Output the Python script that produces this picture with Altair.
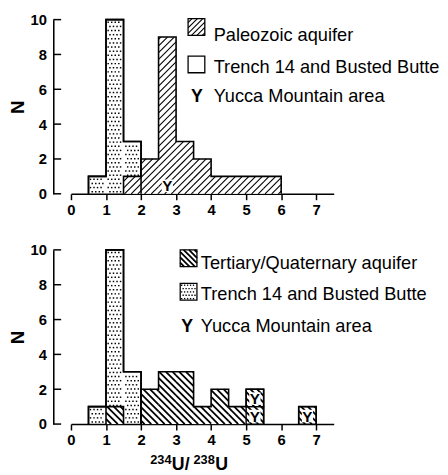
import math
import altair as alt
import pandas as pd

# ---------------- data ----------------
BIN = 0.5
XMAX = 7.5
YMAX = 10
W, H = 267, 177
PXX = W / XMAX
PXY = H / YMAX
FONT = "Liberation Sans"

x_ticks = [0, 1, 2, 3, 4, 5, 6, 7]
y_ticks = [0, 2, 4, 6, 8, 10]

top_trench_lo = [0.5, 1.0, 1.5]
top_trench_n = [1, 10, 3]
top_aq_lo = [1.5, 2.0, 2.5, 3.0, 3.5, 4.0, 4.5, 5.0, 5.5]
top_aq_n = [1, 2, 9, 3, 2, 1, 1, 1, 1]
top_yucca_lo = [2.5]
top_yucca_level = [0]

bot_trench_lo = [0.5, 1.0, 1.5]
bot_trench_n = [1, 10, 3]
bot_aq_lo = [1.0, 2.0, 2.5, 3.0, 3.5, 4.0, 4.5, 5.0, 6.5]
bot_aq_n = [1, 2, 3, 3, 1, 2, 1, 2, 1]
bot_yucca_lo = [5.0, 5.0, 6.5]
bot_yucca_level = [0, 1, 0]

top_labels = ["Paleozoic aquifer", "Trench 14 and Busted Butte", "Yucca Mountain area"]
bot_labels = ["Tertiary/Quaternary aquifer", "Trench 14 and Busted Butte", "Yucca Mountain area"]
x_title_sup = ["234", "238"]
x_title_big = ["U/", "U"]


def px2x(px):
    return px / PXX


def py2y(py):
    return YMAX - py / PXY


def bar_rects(lo, n):
    return [(a, a + BIN, 0.0, float(c)) for a, c in zip(lo, n)]


def outline_df(lo, n):
    rows = []
    run, idx = 0, 0
    prev_end = None
    for x0, c in sorted(zip(lo, n)):
        if prev_end is None or abs(x0 - prev_end) > 1e-9:
            if prev_end is not None:
                rows.append((run, idx, prev_end, 0)); idx += 1
                run += 1
            rows.append((run, idx, x0, 0)); idx += 1
        rows.append((run, idx, x0, c)); idx += 1
        rows.append((run, idx, x0 + BIN, c)); idx += 1
        prev_end = x0 + BIN
    rows.append((run, idx, prev_end, 0))
    return pd.DataFrame(rows, columns=["run", "idx", "x", "y"])


def hatch_df(rects, direction, spacing):
    segs = []
    for (x0, x1, y0, y1) in rects:
        X0, X1, Y0, Y1 = x0 * PXX, x1 * PXX, y0 * PXY, y1 * PXY
        if direction == "/":
            kmin = math.floor((X0 - Y1) / spacing) - 1
            kmax = math.ceil((X1 - Y0) / spacing) + 1
            for k in range(kmin, kmax + 1):
                c = k * spacing
                a = max(X0, Y0 + c)
                b = min(X1, Y1 + c)
                if b - a > 0.4:
                    segs.append((a / PXX, (a - c) / PXY, b / PXX, (b - c) / PXY))
        else:
            kmin = math.floor((X0 + Y0) / spacing) - 1
            kmax = math.ceil((X1 + Y1) / spacing) + 1
            for k in range(kmin, kmax + 1):
                c = k * spacing
                a = max(X0, c - Y1)
                b = min(X1, c - Y0)
                if b - a > 0.4:
                    segs.append((a / PXX, (c - a) / PXY, b / PXX, (c - b) / PXY))
    return pd.DataFrame(segs, columns=["x", "y", "x2", "y2"])


def dots_df(rects, dxp=3.6, dyp=4.2):
    pts = []
    for (x0, x1, y0, y1) in rects:
        X0, X1, Y0, Y1 = x0 * PXX, x1 * PXX, y0 * PXY, y1 * PXY
        j0 = math.floor(Y0 / dyp)
        j1 = math.ceil(Y1 / dyp)
        for j in range(j0, j1 + 1):
            Y = (j + 0.5) * dyp
            if Y < Y0 + 1.5 or Y > Y1 - 1.5:
                continue
            off = 0.5 * dxp * (j % 2)
            i0 = math.floor((X0 - off) / dxp) - 1
            i1 = math.ceil((X1 - off) / dxp) + 1
            for i in range(i0, i1 + 1):
                X = i * dxp + off
                if X0 + 1.5 <= X <= X1 - 1.5:
                    pts.append((X / PXX, Y / PXY))
    return pd.DataFrame(pts, columns=["x", "y"])


XS = alt.Scale(domain=[0, XMAX], nice=False, zero=False)
YS = alt.Scale(domain=[0, YMAX], nice=False, zero=False)
AX = alt.Axis(values=x_ticks, tickSize=6, labelPadding=3, title=None, labelFontWeight="bold",
              labelFontSize=15, labelFlush=False)
AY = alt.Axis(values=y_ticks, offset=18, ticks=False, labelFontWeight="bold", labelFontSize=15,
              labelPadding=7, title="N", titleFontSize=19, titleFontWeight="bold", titlePadding=3)


def X(f="x"):
    return alt.X(f"{f}:Q", scale=XS, axis=AX)


def Y(f="y"):
    return alt.Y(f"{f}:Q", scale=YS, axis=AY)


def panel(trench_lo, trench_n, aq_lo, aq_n, yl_lo, yl_lev, hdir, hwidth,
          labels, leg, trench_leg_dotted, yucca_boxes, x_title):
    layers = []

    # trench outline (first: carries the axes)
    layers.append(alt.Chart(outline_df(trench_lo, trench_n)).mark_line(color="black", strokeWidth=1.6)
                  .encode(x=X(), y=Y(), detail="run:N", order="idx:Q"))

    # trench dots
    tr_rects = bar_rects(trench_lo, trench_n)
    layers.append(alt.Chart(dots_df(tr_rects)).mark_square(size=2.2, color="black", opacity=1)
                  .encode(x=X(), y=Y()))

    # aquifer white fill
    aq_rects = bar_rects(aq_lo, aq_n)
    aqdf = pd.DataFrame(aq_rects, columns=["x", "x2", "y", "y2"])
    layers.append(alt.Chart(aqdf).mark_rect(fill="white", strokeWidth=0)
                  .encode(x=X(), x2="x2:Q", y=Y(), y2="y2:Q"))

    # hatch
    layers.append(alt.Chart(hatch_df(aq_rects, hdir, 6.8)).mark_rule(color="black", strokeWidth=hwidth)
                  .encode(x=X(), y=Y(), x2="x2:Q", y2="y2:Q"))

    # outlines (trench again on top, then aquifer)
    layers.append(alt.Chart(outline_df(trench_lo, trench_n)).mark_line(color="black", strokeWidth=1.6)
                  .encode(x=X(), y=Y(), detail="run:N", order="idx:Q"))
    layers.append(alt.Chart(outline_df(aq_lo, aq_n)).mark_line(color="black", strokeWidth=1.6)
                  .encode(x=X(), y=Y(), detail="run:N", order="idx:Q"))

    # yucca markers
    ydf = pd.DataFrame({"x": [a + BIN / 2 for a in yl_lo], "y": yl_lev,
                        "xa": yl_lo, "xb": [a + BIN for a in yl_lo], "yb": [v + 1 for v in yl_lev],
                        "wa": [a + BIN / 2 - 0.16 for a in yl_lo], "wb": [a + BIN / 2 + 0.16 for a in yl_lo],
                        "ya": [v + 0.1 for v in yl_lev], "ybb": [v + 0.82 for v in yl_lev]})
    layers.append(alt.Chart(ydf).mark_rect(fill="white", strokeWidth=0)
                  .encode(x=X("wa"), x2="wb:Q", y=Y("ya"), y2="ybb:Q"))
    if yucca_boxes:
        layers.append(alt.Chart(ydf).mark_rect(fillOpacity=0, stroke="black", strokeWidth=1.4)
                      .encode(x=X("xa"), x2="xb:Q", y=Y("y"), y2="yb:Q"))
    layers.append(alt.Chart(ydf).mark_text(text="Y", font=FONT, fontWeight="bold", fontSize=15.5,
                                           baseline="alphabetic", dy=-2.5, color="black")
                  .encode(x=X(), y=Y()))

    # legend
    sq_x0, sq_y_tops, txt_x, baselines, y_cx = leg
    S = 17
    sq_rects = [(px2x(sq_x0), px2x(sq_x0 + S), py2y(t + S), py2y(t)) for t in sq_y_tops]
    sqdf = pd.DataFrame(sq_rects, columns=["x", "x2", "y", "y2"])
    layers.append(alt.Chart(sqdf).mark_rect(fill="white", stroke="black", strokeWidth=1.3)
                  .encode(x=X(), x2="x2:Q", y=Y(), y2="y2:Q"))
    layers.append(alt.Chart(hatch_df([sq_rects[0]], hdir, 5.5)).mark_rule(color="black", strokeWidth=hwidth)
                  .encode(x=X(), y=Y(), x2="x2:Q", y2="y2:Q"))
    if trench_leg_dotted:
        layers.append(alt.Chart(dots_df([sq_rects[1]], 3.0, 3.4)).mark_square(size=1.8, color="black", opacity=1)
                      .encode(x=X(), y=Y()))
    tdf = pd.DataFrame({"x": [px2x(txt_x)] * 3, "y": [py2y(b) for b in baselines], "t": labels})
    layers.append(alt.Chart(tdf).mark_text(align="left", baseline="alphabetic", font=FONT, fontSize=18.5,
                                           color="black")
                  .encode(x=X(), y=Y(), text="t:N"))
    layers.append(alt.Chart(pd.DataFrame({"x": [px2x(y_cx)], "y": [py2y(baselines[2])]}))
                  .mark_text(text="Y", font=FONT, fontWeight="bold", fontSize=18, baseline="alphabetic",
                             color="black")
                  .encode(x=X(), y=Y()))

    # inward y ticks
    layers.append(alt.Chart(pd.DataFrame({"y": y_ticks})).mark_rule(color="black", strokeWidth=1.5)
                  .encode(y=Y(), x=alt.value(-18), x2=alt.value(-10)))

    if x_title:
        sup = pd.DataFrame({"x": [px2x(80.5), px2x(124.5)], "y": [py2y(218)] * 2, "t": x_title_sup})
        big = pd.DataFrame({"x": [px2x(102.5), px2x(146.5)], "y": [py2y(224)] * 2, "t": x_title_big})
        layers.append(alt.Chart(sup).mark_text(align="left", baseline="alphabetic", font=FONT,
                                               fontWeight="bold", fontSize=13, color="black")
                      .encode(x=X(), y=Y(), text="t:N"))
        layers.append(alt.Chart(big).mark_text(align="left", baseline="alphabetic", font=FONT,
                                               fontWeight="bold", fontSize=18, color="black")
                      .encode(x=X(), y=Y(), text="t:N"))

    return alt.layer(*layers).properties(width=W, height=H)


top = panel(top_trench_lo, top_trench_n, top_aq_lo, top_aq_n, top_yucca_lo, top_yucca_level,
            "/", 1.1, top_labels, (119, [-1, 37], 145, [22, 54, 84], 128), False, False, False)
bottom = panel(bot_trench_lo, bot_trench_n, bot_aq_lo, bot_aq_n, bot_yucca_lo, bot_yucca_level,
               "\\", 1.8, bot_labels, (111, [0, 34], 132, [19, 51, 83], 118), True, True, True)

chart = (alt.vconcat(top, bottom, spacing=26)
         .properties(padding={"left": 0, "top": 1, "right": 0, "bottom": 0})
         .configure_view(stroke=None)
         .configure_axis(domainColor="black", domainWidth=1.6, tickColor="black", tickWidth=1.5,
                         labelColor="black", titleColor="black", labelFont=FONT, titleFont=FONT,
                         grid=False))

chart.save("out.html", embed_options={"renderer": "svg", "actions": False})
